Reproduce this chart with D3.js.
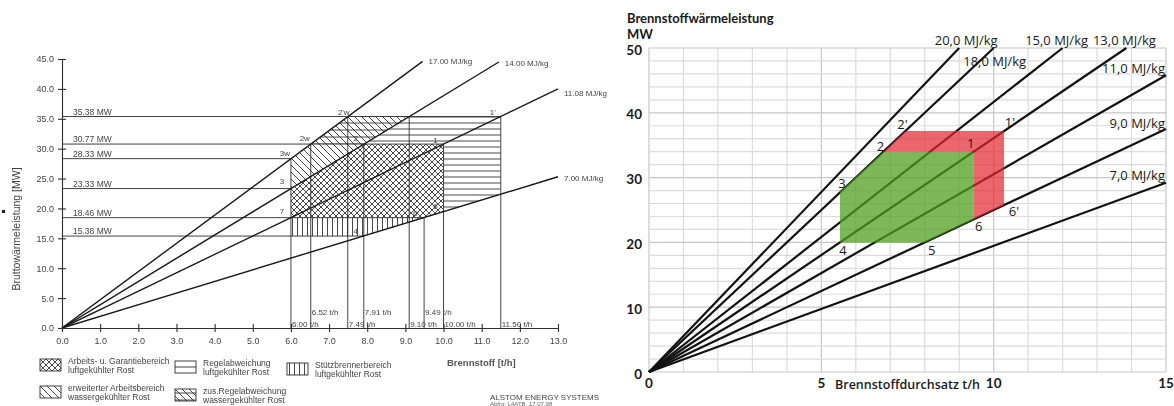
<!DOCTYPE html>
<html>
<head>
<meta charset="utf-8">
<script src="https://cdn.jsdelivr.net/npm/d3@7"></script>
<style>
  body { margin: 0; background: #fff; }
  svg { display: block; }
</style>
</head>
<body>
<svg id="chart" width="1174" height="406"></svg>
<script>
// ---------- Left diagram: Bruttowärmeleistung vs. Brennstoff ----------
const leftXTicks = [0, 1, 2, 3, 4, 5, 6, 7, 8, 9, 10, 11, 12, 13];
const leftYTicks = [0, 5, 10, 15, 20, 25, 30, 35, 40, 45];
const leftHeatLabels = ["17.00 MJ/kg", "14.00 MJ/kg", "11.08 MJ/kg", "7.00 MJ/kg"];
const leftHeatEnds = [[9.45, 44.6], [11.45, 44.5], [13.0, 40.0], [13.0, 25.3]];
const leftLevels = [35.38, 30.77, 28.33, 23.33, 18.46, 15.38];
const leftLevelEnds = [11.5, 10.0, 6.0, 6.0, 9.49, 7.91];
const leftFlows = [6.00, 6.52, 7.49, 7.91, 9.10, 9.49, 10.00, 11.50];
const leftFlowTops = [28.33, 30.77, 35.38, 30.77, 35.38, 18.46, 30.77, 35.38];
const leftFlowUpperRow = [false, true, false, true, false, true, false, false];
const leftPointNames = ["1'", "1", "2'w", "2w", "2", "3w", "3", "7", "4", "6'", "6"];
const leftPoints = [[11.5, 35.38], [10.0, 30.77], [7.49, 35.38], [6.52, 30.77], [7.91, 30.77],
                    [6.0, 28.33], [6.0, 23.33], [6.0, 18.46], [7.91, 15.38], [9.49, 18.46], [10.0, 19.44]];
// operating areas (t/h, MW)
const areaGarantie = [[6.0, 23.33], [7.91, 30.77], [10.0, 30.77], [10.0, 19.44], [9.49, 18.46], [6.0, 18.46]];
const areaErweitert = [[6.0, 23.33], [6.0, 28.33], [6.52, 30.77], [7.91, 30.77]];
const areaRegel = [[7.91, 30.77], [9.10, 35.38], [11.5, 35.38], [11.5, 22.38], [10.0, 19.44], [10.0, 30.77]];
const areaZusRegel = [[6.52, 30.77], [7.49, 35.38], [9.10, 35.38], [7.91, 30.77]];
const areaStuetz = [[6.0, 18.46], [9.49, 18.46], [7.91, 15.38], [6.0, 15.38]];
const legendLines = [
  ["Arbeits- u. Garantiebereich", "luftgekühlter Rost"],
  ["erweiterter Arbeitsbereich", "wassergekühlter Rost"],
  ["Regelabweichung", "luftgekühlter Rost"],
  ["zus.Regelabweichung", "wassergekühlter Rost"],
  ["Stützbrennerbereich", "luftgekühlter Rost"]
];

// ---------- Right diagram: Brennstoffwärmeleistung vs. Brennstoffdurchsatz ----------
const rightXTicks = [0, 5, 10, 15];
const rightYTicks = [0, 10, 20, 30, 40, 50];
const rightHeatLabels = ["20,0 MJ/kg", "18,0 MJ/kg", "15,0 MJ/kg", "13,0 MJ/kg", "11,0 MJ/kg", "9,0 MJ/kg", "7,0 MJ/kg"];
const rightHeatEnds = [[9.0, 50], [10.0, 50], [12.0, 50], [13.85, 50], [15, 45.8], [15, 37.5], [15, 29.2]];
const rightGreenArea = [[5.54, 20], [5.54, 27.8], [6.8, 34], [9.42, 34], [9.42, 23.55], [8.0, 20]];
const rightRedArea = [[6.8, 34], [7.44, 37.2], [10.3, 37.2], [10.3, 25.75], [9.42, 23.55], [9.42, 34]];
const rightPointNames = ["2'", "2", "1'", "1", "3", "4", "5", "6", "6'"];
const rightPoints = [[7.44, 37.2], [6.8, 34], [10.3, 37.2], [9.42, 34], [5.54, 27.8], [5.54, 20], [8.0, 20], [9.42, 23.55], [10.3, 25.75]];

const svg = d3.select("#chart");
const defs = svg.append("defs");

// ================= LEFT =================
const scanInk = "#2e2e2e";
const scanText = "#444";
const fontL = "'Liberation Sans', Arial, sans-serif";

defs.append("filter").attr("id", "soft")
  .append("feGaussianBlur").attr("stdDeviation", 0.35);

function hatch(id, w, h, d) {
  defs.append("pattern").attr("id", id)
    .attr("patternUnits", "userSpaceOnUse").attr("width", w).attr("height", h)
    .append("path").attr("d", d).attr("stroke", "#333").attr("stroke-width", 0.9).attr("fill", "none");
}
hatch("pCross", 6, 6, "M-1,-1L7,7M-1,7L7,-1");
hatch("pDiag", 7, 7, "M-1,-1L8,8M-1,6L1,8M6,-1L8,1");
hatch("pHoriz", 10, 6, "M0,3H10");
hatch("pVert", 5, 10, "M2.5,0V10");
hatch("pDiagHoriz", 7, 7, "M-1,-1L8,8M-1,6L1,8M6,-1L8,1M0,4H7");

const lx = d3.scaleLinear().domain([0, 13]).range([62, 558]);
const ly = d3.scaleLinear().domain([0, 45]).range([328, 59]);
const L = svg.append("g").attr("filter", "url(#soft)");
const lineL = d3.line().x(d => lx(d[0])).y(d => ly(d[1]));

const areas = [[areaGarantie, "pCross"], [areaErweitert, "pDiag"], [areaRegel, "pHoriz"],
               [areaZusRegel, "pDiagHoriz"], [areaStuetz, "pVert"]];
L.selectAll("path.area").data(areas).join("path")
  .attr("class", "area")
  .attr("d", d => lineL(d[0]) + "Z")
  .attr("fill", d => `url(#${d[1]})`)
  .attr("stroke", "none");

// horizontal power levels
L.selectAll("line.level").data(leftLevels).join("line")
  .attr("x1", lx(0)).attr("x2", (d, i) => lx(leftLevelEnds[i]))
  .attr("y1", d => ly(d)).attr("y2", d => ly(d))
  .attr("stroke", scanInk).attr("stroke-width", 0.9);
L.selectAll("text.level").data(leftLevels).join("text")
  .attr("x", lx(0) + 11).attr("y", d => ly(d) - 2)
  .attr("font-family", fontL).attr("font-size", 8.5).attr("fill", scanText)
  .text(d => d.toFixed(2) + " MW");

// vertical fuel flows
L.selectAll("line.flow").data(leftFlows).join("line")
  .attr("x1", d => lx(d)).attr("x2", d => lx(d))
  .attr("y1", ly(0)).attr("y2", (d, i) => ly(leftFlowTops[i]))
  .attr("stroke", scanInk).attr("stroke-width", 0.9);
L.selectAll("text.flow").data(leftFlows).join("text")
  .attr("x", d => lx(d) + 1)
  .attr("y", (d, i) => leftFlowUpperRow[i] ? 315 : 326.5)
  .attr("font-family", fontL).attr("font-size", 8).attr("fill", scanText)
  .text(d => d.toFixed(2) + " t/h");

// heating value rays
L.selectAll("path.heat").data(leftHeatEnds).join("path")
  .attr("d", d => lineL([[0, 0], d]))
  .attr("stroke", "#1a1a1a").attr("stroke-width", 1.4).attr("fill", "none");
const leftHeatLabelDy = [3, 4, 7, 4];
L.selectAll("text.heat").data(leftHeatEnds).join("text")
  .attr("x", d => lx(d[0]) + 6).attr("y", (d, i) => ly(d[1]) + leftHeatLabelDy[i])
  .attr("font-family", fontL).attr("font-size", 8).attr("fill", scanText)
  .text((d, i) => leftHeatLabels[i]);

// axes
const axL = L.append("g").attr("transform", `translate(${lx(0)},0)`)
  .call(d3.axisLeft(ly).tickValues(leftYTicks).tickFormat(d => d.toFixed(1)).tickSize(4).tickSizeOuter(0).tickPadding(4));
const axB = L.append("g").attr("transform", `translate(0,${ly(0)})`)
  .call(d3.axisBottom(lx).tickValues(leftXTicks).tickFormat(d => d.toFixed(1)).tickSize(4).tickSizeOuter(0).tickPadding(6));
[axL, axB].forEach(a => {
  a.select(".domain").attr("stroke", scanInk).attr("stroke-width", 1.1);
  a.selectAll(".tick line").attr("stroke", scanInk).attr("stroke-width", 1.1);
  a.selectAll(".tick text").attr("font-family", fontL).attr("font-size", 9).attr("fill", scanText);
});
axL.selectAll(".tick line").attr("x1", 4);
axB.selectAll(".tick line").attr("y1", -4);

// point names
const leftOffsets = {"1'": [-8, -4], "1": [-8, -4], "2'w": [-4, -4], "2w": [-6, -6], "2": [-8, -6],
  "3w": [-6, -5], "3": [-9, -7], "7": [-9, -6], "4": [-8, -5], "6'": [-8, -4], "6": [-8, -5]};
L.selectAll("text.pt").data(leftPoints).join("text")
  .attr("x", (d, i) => lx(d[0]) + leftOffsets[leftPointNames[i]][0])
  .attr("y", (d, i) => ly(d[1]) + leftOffsets[leftPointNames[i]][1])
  .attr("text-anchor", "middle").attr("dominant-baseline", "central")
  .attr("font-family", fontL).attr("font-size", 8).attr("fill", scanText)
  .text((d, i) => leftPointNames[i]);

// axis titles
L.append("text").attr("transform", "translate(20,229) rotate(-90)")
  .attr("text-anchor", "middle")
  .attr("font-family", fontL).attr("font-size", 10.5).attr("fill", scanText)
  .text("Bruttowärmeleistung [MW]");
L.append("rect").attr("x", 2).attr("y", 210).attr("width", 3).attr("height", 3).attr("fill", "#222");
L.append("text").attr("x", 447).attr("y", 366)
  .attr("font-family", fontL).attr("font-size", 9.5).attr("font-weight", "bold").attr("fill", "#555")
  .text("Brennstoff [t/h]");

// legend
const legendSpots = [[40, 359], [40, 386], [175, 361], [175, 389], [287, 363]];
const legendFills = ["pCross", "pDiag", null, "pDiagHoriz", "pVert"];
const lg = L.selectAll("g.lg").data(legendLines).join("g")
  .attr("transform", (d, i) => `translate(${legendSpots[i][0]},${legendSpots[i][1]})`);
lg.append("rect").attr("width", 21).attr("height", 12)
  .attr("fill", (d, i) => legendFills[i] ? `url(#${legendFills[i]})` : "#fff")
  .attr("stroke", scanInk).attr("stroke-width", 0.9);
lg.filter((d, i) => i === 2).append("line")
  .attr("x1", 0).attr("x2", 21).attr("y1", 6).attr("y2", 6)
  .attr("stroke", scanInk).attr("stroke-width", 0.9);
lg.append("text").attr("x", 28).attr("y", 5)
  .attr("font-family", fontL).attr("font-size", 8.5).attr("fill", scanText).text(d => d[0]);
lg.append("text").attr("x", 28).attr("y", 14)
  .attr("font-family", fontL).attr("font-size", 8.5).attr("fill", scanText).text(d => d[1]);

L.append("text").attr("x", 490).attr("y", 400)
  .attr("font-family", fontL).attr("font-size", 8).attr("fill", "#444")
  .text("ALSTOM ENERGY SYSTEMS");
L.append("text").attr("x", 490).attr("y", 406)
  .attr("font-family", fontL).attr("font-size", 6).attr("fill", "#666")
  .text("Abfrg: L4ATB, 17.07.98");

// ================= RIGHT =================
const fontR = "'Open Sans', 'Noto Sans', sans-serif";
const fontHead = "Lato, 'Open Sans', sans-serif";
const rx = d3.scaleLinear().domain([0, 15]).range([649, 1166]);
const ry = d3.scaleLinear().domain([0, 50]).range([372, 48]);
const R = svg.append("g");
const lineR = d3.line().x(d => rx(d[0])).y(d => ry(d[1]));

// grid
const gridX = d3.range(0, 16, 1);
const gridY = d3.range(0, 51, 2);
R.selectAll("line.gx").data(gridX).join("line")
  .attr("x1", d => rx(d)).attr("x2", d => rx(d)).attr("y1", ry(0)).attr("y2", ry(50))
  .attr("stroke", d => d % 5 === 0 ? "#c6c6c6" : "#dcdcdc").attr("stroke-width", 1.2);
R.selectAll("line.gy").data(gridY).join("line")
  .attr("y1", d => ry(d)).attr("y2", d => ry(d)).attr("x1", rx(0)).attr("x2", rx(15))
  .attr("stroke", d => d % 10 === 0 ? "#c6c6c6" : "#dcdcdc").attr("stroke-width", 1.2);

// heating value rays
R.selectAll("path.heat").data(rightHeatEnds).join("path")
  .attr("d", d => lineR([[0, 0], d]))
  .attr("stroke", "#111").attr("stroke-width", 2.2).attr("fill", "none");

// operating areas, translucent over the rays
R.append("path").attr("d", lineR(rightGreenArea) + "Z")
  .attr("fill", "#4f9e1c").attr("fill-opacity", 0.74);
R.append("path").attr("d", lineR(rightRedArea) + "Z")
  .attr("fill", "#e0262f").attr("fill-opacity", 0.7);

// ray labels
const rayLabelPos = [[7, -8, "middle"], [1, 13, "middle"], [-6, -8, "middle"], [-2, -8, "middle"],
                     [-1, -7, "end"], [-1, -6, "end"], [-1, -8, "end"]];
R.selectAll("text.heat").data(rightHeatEnds).join("text")
  .attr("x", (d, i) => rx(d[0]) + rayLabelPos[i][0])
  .attr("y", (d, i) => ry(d[1]) + rayLabelPos[i][1])
  .attr("text-anchor", (d, i) => rayLabelPos[i][2])
  .attr("dominant-baseline", "central")
  .attr("font-family", fontR).attr("font-size", 13).attr("font-weight", 500).attr("fill", "#1a1a1a")
  .text((d, i) => rightHeatLabels[i]);

// point names
const rightOffsets = {"2'": [-3, -7], "2": [-3, -6], "1'": [6, -9], "1": [-3, -9], "3": [2, -9],
  "4": [3, 8], "5": [7, 8], "6": [5, 7], "6'": [10, 6]};
R.selectAll("text.pt").data(rightPoints).join("text")
  .attr("x", (d, i) => rx(d[0]) + rightOffsets[rightPointNames[i]][0])
  .attr("y", (d, i) => ry(d[1]) + rightOffsets[rightPointNames[i]][1])
  .attr("text-anchor", "middle").attr("dominant-baseline", "central")
  .attr("font-family", fontR).attr("font-size", 13).attr("font-weight", 500).attr("fill", "#1a1a1a")
  .text((d, i) => rightPointNames[i]);

// axes labels
R.selectAll("text.yt").data(rightYTicks).join("text")
  .attr("x", rx(0) - 7).attr("y", d => ry(d) + 1.5)
  .attr("text-anchor", "end").attr("dominant-baseline", "central")
  .attr("font-family", fontHead).attr("font-size", 13.5).attr("font-weight", 700).attr("fill", "#1a1a1a")
  .text(d => d);
R.selectAll("text.xt").data(rightXTicks).join("text")
  .attr("x", d => rx(d)).attr("y", ry(0) + 11)
  .attr("text-anchor", "middle").attr("dominant-baseline", "central")
  .attr("font-family", fontHead).attr("font-size", 13.5).attr("font-weight", 700).attr("fill", "#1a1a1a")
  .text(d => d);
R.append("text").attr("x", 835).attr("y", 384).attr("dominant-baseline", "central")
  .attr("font-family", fontR).attr("font-size", 12.5).attr("font-weight", 600).attr("fill", "#1a1a1a")
  .text("Brennstoffdurchsatz  t/h");
R.append("text").attr("x", 627).attr("y", 17.8).attr("dominant-baseline", "central")
  .attr("font-family", fontHead).attr("font-size", 13).attr("font-weight", 700).attr("fill", "#1a1a1a")
  .text("Brennstoffwärmeleistung");
R.append("text").attr("x", 627).attr("y", 33.5).attr("dominant-baseline", "central")
  .attr("font-family", fontHead).attr("font-size", 13).attr("font-weight", 700).attr("fill", "#1a1a1a")
  .text("MW");
</script>
</body>
</html>
